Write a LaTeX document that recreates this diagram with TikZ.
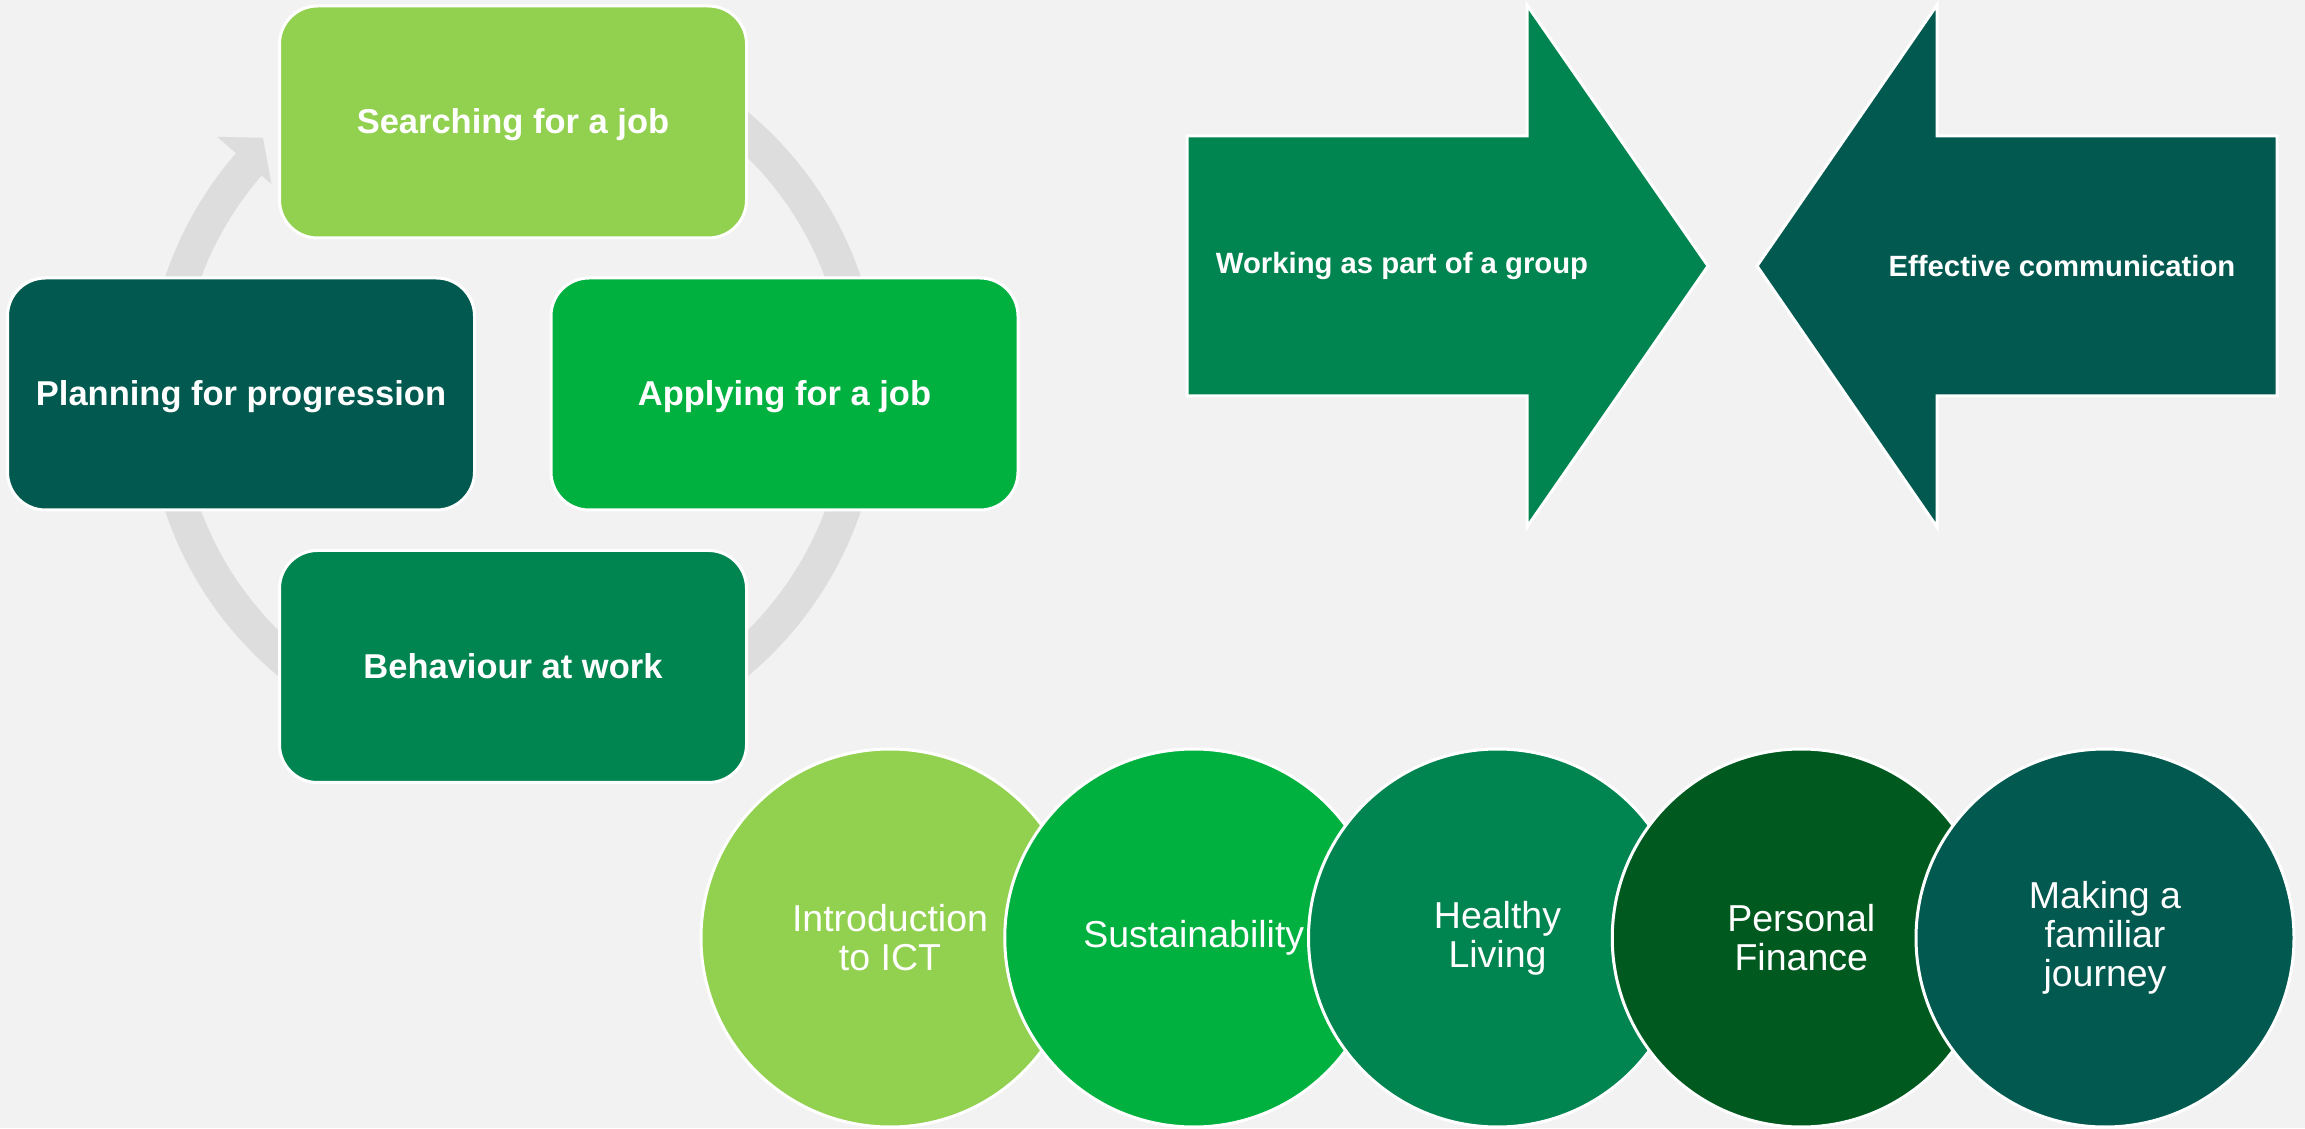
\documentclass[tikz,border=0pt]{standalone}
\usepackage{fontspec}
\setmainfont{Liberation Sans}
\usetikzlibrary{calc}
\definecolor{cLight}{HTML}{92D050}
\definecolor{cBright}{HTML}{00B140}
\definecolor{cMid}{HTML}{008450}
\definecolor{cDark}{HTML}{005A20}
\definecolor{cTeal}{HTML}{02594F}
\definecolor{cBg}{HTML}{F2F2F2}
\definecolor{cRing}{HTML}{DDDDDD}
\begin{document}
\begin{tikzpicture}[x=1pt,y=1pt,
  box/.style={rectangle, rounded corners=38pt, minimum width=467pt, minimum height=232pt, draw=white, line width=3pt, text=white, font=\bfseries\fontsize{34.5}{40}\selectfont, inner sep=0pt, text height=34pt, text depth=10pt},
  ball/.style={circle, minimum size=378pt, draw=white, line width=3pt, text=white, align=center, font=\fontsize{37.5}{39}\selectfont, inner sep=0pt},
  arrowshape/.style={draw=white, line width=3pt},
  arrowtext/.style={text=white, font=\bfseries\fontsize{29.3}{34}\selectfont}]
\fill[cBg] (0,0) rectangle (2305,1128);
\useasboundingbox (0,0) rectangle (2305,1128);
% cycle ring
\coordinate (c) at (513,734);
\draw[cRing, line width=34pt] ($(c)+(100:350pt)$) arc[start angle=100, end angle=-221, radius=350pt];
\fill[cRing] ($(c)+(139:392pt)$) -- ($(c)+(134.3:358pt)$) -- ($(c)+(139:320pt)$) -- cycle;
% boxes
\node[box, fill=cLight] (search) at (513,1006) {Searching for a job};
\node[box, fill=cBright] (apply) at (784.5,734) {Applying for a job};
\node[box, fill=cMid] (behave) at (513,461.5) {Behaviour at work};
\node[box, fill=cTeal] (plan) at (241,734) {Planning for progression};
% arrows
\fill[cMid, arrowshape] (1187,732) -- (1527,732) -- (1527,601) -- (1708,862) -- (1527,1123) -- (1527,992) -- (1187,992) -- cycle;
\fill[cTeal, arrowshape] (2277,732) -- (1937,732) -- (1937,601) -- (1757,862) -- (1937,1123) -- (1937,992) -- (2277,992) -- cycle;
\node[arrowtext] (work) at (1402,862) {Working as part of a group};
\node[arrowtext] (comm) at (2062,862) {Effective communication};
% circles
\node[ball, fill=cLight] (ict) at (890,190) {Introduction\\to ICT};
\node[ball, fill=cBright] (sus) at (1193.75,190) {Sustainability};
\node[ball, fill=cMid] (health) at (1497.5,190) {Healthy\\Living};
\node[ball, fill=cDark] (fin) at (1801.25,190) {Personal\\Finance};
\node[ball, fill=cTeal] (journey) at (2105,190) {Making a\\familiar\\journey};
\end{tikzpicture}
\end{document}
